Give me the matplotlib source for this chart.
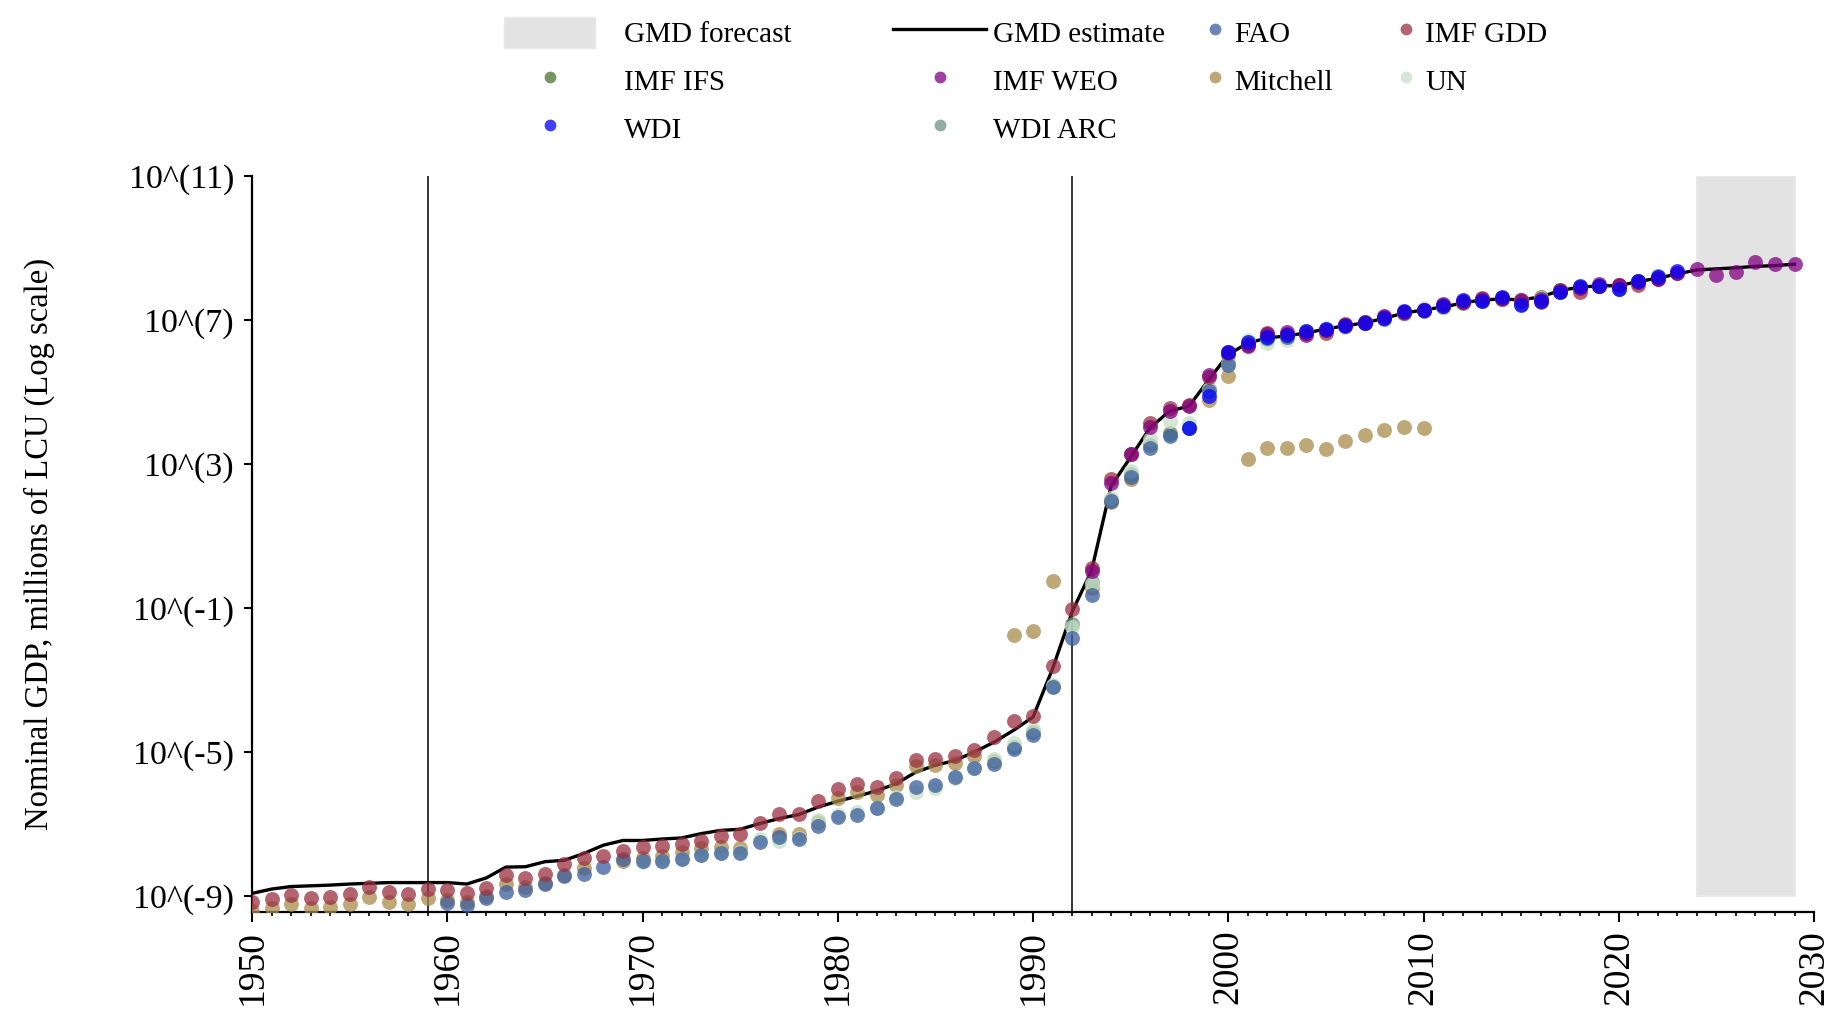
import numpy as np
import matplotlib
matplotlib.use("Agg")
import matplotlib.pyplot as plt
from matplotlib.patches import Patch
from matplotlib.lines import Line2D

plt.rcParams['font.family'] = ['Liberation Serif', 'DejaVu Serif']

# ---- data (log10 of nominal GDP, millions of LCU) ----
gmd_years = list(range(1950, 2030))
gmd_vals = [-8.92, -8.80, -8.73, -8.71, -8.69, -8.66, -8.64, -8.62, -8.62, -8.62,
            -8.62, -8.66, -8.49, -8.19, -8.18, -8.04, -8.00, -7.81, -7.58, -7.45,
            -7.45, -7.41, -7.38, -7.26, -7.17, -7.14, -6.98, -6.84, -6.73, -6.52,
            -6.36, -6.22, -6.07, -5.87, -5.55, -5.36, -5.23, -4.99, -4.72, -4.39,
            -4.02, -2.68, -1.10, 0.05, 2.40, 3.20, 4.02, 4.48, 4.62, 5.35,
            6.05, 6.37, 6.51, 6.57, 6.65, 6.76, 6.85, 6.93, 7.06, 7.20,
            7.29, 7.37, 7.48, 7.57, 7.59, 7.57, 7.65, 7.83, 7.92, 7.96,
            7.96, 8.08, 8.17, 8.29, 8.40, 8.43, 8.46, 8.50, 8.52, 8.56]

forecast_start, forecast_end = 2024, 2029
forecast_low, forecast_high = -9.0, 11.0

fao_years = list(range(1960, 2023))
fao_vals = [-9.20, -9.24, -9.04, -8.87, -8.83, -8.66, -8.43, -8.37, -8.20, -7.97,
            -8.01, -8.01, -7.97, -7.84, -7.81, -7.81, -7.49, -7.35, -7.40, -7.04,
            -6.79, -6.73, -6.55, -6.29, -5.96, -5.90, -5.70, -5.45, -5.32, -4.92,
            -4.51, -3.19, -1.83, -0.63, 1.98, 2.66, 3.46, 3.80, 4.00, 5.03,
            5.77, 6.35, 6.50, 6.55, 6.68, 6.74, 6.86, 6.95, 7.05, 7.22,
            7.27, 7.40, 7.55, 7.55, 7.62, 7.46, 7.55, 7.80, 7.92, 7.95,
            7.88, 8.10, 8.22]

gdd_years = list(range(1950, 2024))
gdd_vals = [-9.15, -9.08, -8.97, -9.06, -9.02, -8.95, -8.75, -8.87, -8.94, -8.80,
            -8.83, -8.90, -8.76, -8.41, -8.50, -8.37, -8.11, -7.93, -7.88, -7.75,
            -7.63, -7.60, -7.56, -7.46, -7.32, -7.28, -6.96, -6.72, -6.72, -6.35,
            -6.03, -5.89, -5.96, -5.71, -5.21, -5.20, -5.09, -4.95, -4.58, -4.12,
            -3.99, -2.59, -1.02, 0.13, 2.58, 3.28, 4.15, 4.57, 4.66, 5.43,
            6.09, 6.32, 6.65, 6.63, 6.65, 6.65, 6.90, 6.95, 7.10, 7.20,
            7.28, 7.43, 7.50, 7.62, 7.60, 7.55, 7.52, 7.85, 7.80, 7.95,
            7.98, 7.99, 8.15, 8.31]

ifs_years = list(range(2000, 2023))
ifs_vals = [6.05, 6.37, 6.51, 6.57, 6.65, 6.76, 6.85, 6.93, 7.06, 7.20,
            7.29, 7.37, 7.48, 7.57, 7.59, 7.57, 7.65, 7.83, 7.92, 7.96,
            7.96, 8.08, 8.17]

weo_years = list(range(1993, 2030))
weo_vals = [0.04, 2.47, 3.28, 4.04, 4.48, 4.63, 5.49, 6.11, 6.28, 6.62,
            6.67, 6.60, 6.72, 6.88, 6.92, 7.12, 7.22, 7.30, 7.45, 7.52,
            7.58, 7.62, 7.56, 7.58, 7.82, 7.90, 8.00, 7.97, 8.06, 8.15,
            8.32, 8.42, 8.26, 8.33, 8.61, 8.57, 8.57]

mitchell_years = [1950, 1951, 1952, 1953, 1954, 1955, 1956, 1957, 1958, 1959,
                  1960, 1961, 1962, 1963, 1964, 1965, 1966, 1967, 1969, 1970,
                  1971, 1972, 1973, 1974, 1975, 1977, 1978, 1979, 1980, 1981,
                  1982, 1983, 1984, 1985, 1986, 1987, 1988, 1989, 1990, 1991,
                  1993, 1994, 1995, 1997, 1999, 2000, 2001, 2002, 2003, 2004,
                  2005, 2006, 2007, 2008, 2009, 2010]
mitchell_vals = [-9.41, -9.32, -9.22, -9.32, -9.29, -9.22, -9.01, -9.15, -9.22, -9.06,
                 -9.11, -9.15, -9.00, -8.66, -8.74, -8.62, -8.41, -8.21, -8.02, -7.95,
                 -7.88, -7.77, -7.67, -7.63, -7.65, -7.26, -7.28, -6.93, -6.26, -6.10,
                 -6.18, -5.92, -5.38, -5.36, -5.29, -5.11, -5.25, -1.74, -1.64, -0.23,
                 -0.45, 1.94, 2.58, 3.88, 4.80, 5.45, 3.16, 3.45, 3.45, 3.55,
                 3.42, 3.65, 3.81, 3.94, 4.04, 4.00]

un_years = list(range(1970, 2023))
un_vals = [-8.06, -8.04, -7.97, -7.84, -7.80, -7.78, -7.41, -7.46, -7.38, -6.89,
           -6.75, -6.66, -6.56, -6.24, -6.10, -5.98, -5.72, -5.45, -5.20, -4.73,
           -4.36, -3.13, -1.53, -0.33, 2.07, 2.81, 3.71, 4.20, 4.15, 5.10,
           5.79, 6.46, 6.37, 6.46, 6.70, 6.78, 6.82, 6.92, 7.10, 7.18,
           7.33, 7.36, 7.52, 7.60, 7.62, 7.58, 7.62, 7.80, 7.92, 7.98,
           7.95, 8.05, 8.20]

wdi_years = list(range(1998, 2024))
wdi_vals = [4.01, 4.89, 6.11, 6.39, 6.54, 6.60, 6.71, 6.76, 6.85, 6.93,
            7.06, 7.25, 7.29, 7.39, 7.57, 7.55, 7.65, 7.43, 7.55, 7.79,
            7.94, 7.96, 7.87, 8.08, 8.19, 8.38]

wdiarc_years = list(range(1989, 2013))
wdiarc_vals = [-4.85, -4.45, -3.15, -1.44, -0.28, 2.02,
               2.72, 3.55, 3.85, 4.05, 5.08, 5.82, 6.40, 6.48, 6.55, 6.70,
               6.75, 6.86, 6.94, 7.07, 7.22, 7.28, 7.38, 7.52]

ticks_y = [-9, -5, -1, 3, 7, 11]
marked_years = [1959, 1992]

# source name -> (years, values, colour); drawn in this order
sources = {
    'IMF IFS': (ifs_years, ifs_vals, '#4B7330'),
    'Mitchell': (mitchell_years, mitchell_vals, '#A88B4B'),
    'WDI ARC': (wdiarc_years, wdiarc_vals, '#6C9083'),
    'UN': (un_years, un_vals, '#C5E0C5'),
    'FAO': (fao_years, fao_vals, '#3A5E9E'),
    'IMF GDD': (gdd_years, gdd_vals, '#9B3040'),
    'IMF WEO': (weo_years, weo_vals, '#800080'),
    'WDI': (wdi_years, wdi_vals, '#0000FF'),
}
ALPHA = 0.75
FS_TICK_X = 27
FS_TICK_Y = 24.5
FS_LAB = 23.5
FS_LEG = 21
BAND = '#e3e3e3'

fig = plt.figure(figsize=(18.37, 10.17), dpi=100)
ax = fig.add_axes([0.1372, 0.1035, 0.8503, 0.7231])

ax.fill_between([forecast_start, forecast_end], forecast_low, forecast_high,
                facecolor=BAND, edgecolor='#e9e9e9', lw=1.5, zorder=0.5)
for yr in marked_years:
    ax.axvline(yr, color='black', lw=1.1, zorder=1)
ax.plot(gmd_years, gmd_vals, color='black', lw=2.4, zorder=2)

for i, (name, (yrs, vals, col)) in enumerate(sources.items()):
    ax.scatter(yrs, vals, s=115, color=col, alpha=ALPHA, linewidths=0, zorder=3 + i * 0.1)

ax.set_xlim(1950, 2030)
ax.set_ylim(-9.43, 11)
ax.set_xticks(range(1950, 2031, 10))
ax.set_xticks(range(1950, 2031), minor=True)
ax.set_yticks(ticks_y)
ax.set_yticklabels([f'10^({v})' for v in ticks_y])
ax.tick_params(axis='x', which='major', length=7, width=1.5, labelsize=FS_TICK_X,
               labelrotation=90, pad=6)
ax.tick_params(axis='x', which='minor', length=3, width=1.2)
ax.tick_params(axis='y', which='major', length=6, width=1.5, labelsize=FS_TICK_Y, pad=7)
for s in ['top', 'right']:
    ax.spines[s].set_visible(False)
for s in ['left', 'bottom']:
    ax.spines[s].set_linewidth(1.6)
ax.set_ylabel('Nominal GDP, millions of LCU (Log scale)', fontsize=FS_LAB)
ax.yaxis.set_label_coords(-0.126, 0.5)


def dot(name):
    return Line2D([], [], ls='none', marker='o', markersize=8.5, markeredgewidth=0,
                  color=sources[name][2], alpha=ALPHA, label=name)


columns = [
    ([Patch(facecolor=BAND, edgecolor='#e9e9e9', label='GMD forecast'),
      dot('IMF IFS'), dot('WDI')], 504, 3.12, 1.0),
    ([Line2D([], [], color='black', lw=2.4, label='GMD estimate'),
      dot('IMF WEO'), dot('WDI ARC')], 893, 3.2, 0.24),
    ([dot('FAO'), dot('Mitchell')], 1206, 0.6, 0.36),
    ([dot('IMF GDD'), dot('UN')], 1397, 0.6, 0.36),
]
W, H = 1837, 1017
for handles, left_px, hlen, hpad in columns:
    leg = fig.legend(handles=handles, loc='upper left',
                     bbox_to_anchor=(left_px / W, 1 - 16.5 / H),
                     frameon=False, fontsize=FS_LEG, handlelength=hlen,
                     handleheight=1.28, handletextpad=hpad, labelspacing=0.56,
                     borderpad=0, borderaxespad=0)

fig.savefig('out.png', dpi=100)
